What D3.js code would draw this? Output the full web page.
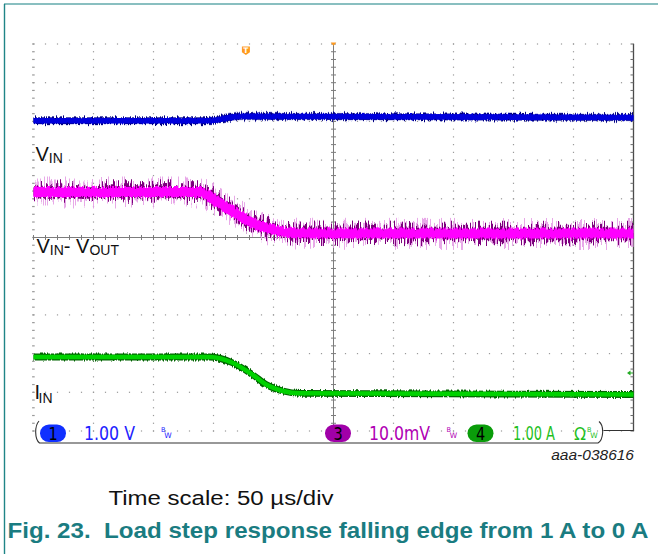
<!DOCTYPE html>
<html>
<head>
<meta charset="utf-8">
<script src="https://cdn.jsdelivr.net/npm/d3@7"></script>
<style>
  html, body { margin: 0; padding: 0; background: #ffffff; }
  svg { display: block; }
</style>
</head>
<body>
<script>
// ---- Scope capture: load step, 1 A -> 0 A, 50 us/div ----
const W = 658, H = 554;

// Horizontal axis: time in microseconds, 10 divisions of 50 us
const timeDomain = [-250, 250];
const timeStep = 50;
// Vertical axis: screen divisions, 10 divisions
const divDomain = [-5, 5];

// Channel 1 (VIN, 1.00 V/div) trace keypoints: time (us) and level (div)
const vinTime = [-250, -106, -97, -86, -78, -20, 250];
const vinDiv  = [3.016, 3.016, 3.036, 3.106, 3.13, 3.125, 3.10];

// Channel 3 (VIN - VOUT, 10.0 mV/div)
const dropTime = [-250, -111, -97, -83.5, -69.6, -55.7, -41.8, -27.9, 250];
const dropDiv  = [1.176, 1.176, 0.925, 0.667, 0.408, 0.238, 0.150, 0.109, 0.103];

// Channel 4 (IIN, 1.00 A/div)
const iinTime = [-250, -103, -83.75, -67.1, -55.4, -42.1, -27.9, 250];
const iinDiv  = [-3.088, -3.088, -3.243, -3.553, -3.811, -3.966, -4.026, -4.057];

// Trigger position (us)
const triggerTime = -73;

// Channel readouts in the status bar
const channelBadges = ["1", "3", "4"];
const channelScales = ["1.00 V", "10.0mV", "1.00 A"];

const traceLabels = ["V", "IN"];
const figureId = "aaa-038616";
const timeScaleText = "Time scale: 50 \u00b5s/div";
const captionText = "Fig. 23.\u00a0\u00a0Load step response falling edge from 1 A to 0 A";

const svg = d3.select("body").append("svg")
  .attr("width", W).attr("height", H);

const x = d3.scaleLinear().domain(timeDomain).range([33.5, 633.5]);
const y = d3.scaleLinear().domain(divDomain).range([431, 44]);

// Page frame lines
svg.append("line").attr("x1", 4).attr("x2", W).attr("y1", 4).attr("y2", 4)
  .attr("stroke", "#62aaab").attr("stroke-width", 1.6);
svg.append("line").attr("x1", 4.5).attr("x2", 4.5).attr("y1", 4).attr("y2", H)
  .attr("stroke", "#1f8587").attr("stroke-width", 1.4);

// ---- Noise filters for the traces ----
const defs = svg.append("defs");
function noiseFilter(id, scale, seed, fx, fy) {
  const f = defs.append("filter").attr("id", id)
    .attr("filterUnits", "userSpaceOnUse")
    .attr("x", 0).attr("y", 0).attr("width", W).attr("height", H)
    .attr("color-interpolation-filters", "sRGB");
  f.append("feTurbulence").attr("type", "fractalNoise")
    .attr("baseFrequency", fx + " " + fy).attr("numOctaves", 2)
    .attr("seed", seed).attr("result", "n");
  // stretch red contrast, freeze green at 0.5 so only vertical displacement remains
  f.append("feColorMatrix").attr("in", "n").attr("type", "matrix")
    .attr("values", "2.2 0 0 0 -0.6  0 0 0 0 0.5  0 0 1 0 0  0 0 0 0 1")
    .attr("result", "m");
  f.append("feDisplacementMap").attr("in", "SourceGraphic").attr("in2", "m")
    .attr("scale", scale).attr("xChannelSelector", "G").attr("yChannelSelector", "R");
}
noiseFilter("nMagWide", 19, 5, 0.9, 0.03);
noiseFilter("nMagDark", 14, 11, 0.95, 0.03);
noiseFilter("nMagCore", 3, 17, 0.8, 0.05);
noiseFilter("nBlueEdge", 3.5, 3, 0.9, 0.05);
noiseFilter("nBlueCore", 1.2, 9, 0.8, 0.05);
noiseFilter("nGreenEdge", 2, 21, 0.7, 0.05);

// ---- Graticule ----
const grid = svg.append("g");
const dotColor = "#9a9a9a";
const hLines = d3.range(divDomain[0], divDomain[1] + 1, 1).filter(d => d !== 0);
const vLines = d3.range(timeDomain[0], timeDomain[1], timeStep).filter(d => d !== 0);
const minorT = d3.range(timeDomain[0], timeDomain[1] + 0.01, timeStep / 5);
const minorD = d3.range(divDomain[0], divDomain[1] + 0.01, 0.2);

// dotted horizontal rows
hLines.forEach(dv => {
  grid.selectAll(null).data(minorT).enter().append("rect")
    .attr("x", t => x(t) - 0.6).attr("y", y(dv) - 0.6)
    .attr("width", 1.2).attr("height", 1.2).attr("fill", dotColor);
});
// dotted vertical columns
vLines.forEach(t => {
  grid.selectAll(null).data(minorD).enter().append("rect")
    .attr("x", x(t) - (t === timeDomain[0] ? 1.4 : 0.6)).attr("y", dv => y(dv) - 0.6)
    .attr("width", t === timeDomain[0] ? 2.6 : 1.2).attr("height", 1.2).attr("fill", dotColor);
});

// center cross with minor ticks
const axisColor = "#7c7c7c";
grid.append("line").attr("x1", x(0)).attr("x2", x(0)).attr("y1", y(5)).attr("y2", y(-5))
  .attr("stroke", axisColor).attr("stroke-width", 1);
grid.append("line").attr("x1", x(timeDomain[0])).attr("x2", x(timeDomain[1])).attr("y1", y(0)).attr("y2", y(0))
  .attr("stroke", axisColor).attr("stroke-width", 1);
grid.selectAll(null).data(minorD).enter().append("line")
  .attr("x1", x(0) - 2.5).attr("x2", x(0) + 2.5)
  .attr("y1", d => y(d)).attr("y2", d => y(d))
  .attr("stroke", axisColor).attr("stroke-width", 1);
grid.selectAll(null).data(minorT).enter().append("line")
  .attr("x1", d => x(d)).attr("x2", d => x(d))
  .attr("y1", y(0) - 2.5).attr("y2", y(0) + 2.5)
  .attr("stroke", axisColor).attr("stroke-width", 1);

// right border with inward ticks
grid.append("line").attr("x1", x(250)).attr("x2", x(250)).attr("y1", y(5)).attr("y2", y(-5))
  .attr("stroke", "#4a4a4a").attr("stroke-width", 1.3);
grid.selectAll(null).data(minorD).enter().append("line")
  .attr("x1", x(250) - 3).attr("x2", x(250))
  .attr("y1", d => y(d)).attr("y2", d => y(d))
  .attr("stroke", "#6a6a6a").attr("stroke-width", 1);

// ---- Traces ----
const line = d3.line().x(d => x(d.t)).y(d => y(d.v)).curve(d3.curveMonotoneX);
const zip = (ts, vs) => ts.map((t, i) => ({ t: t, v: vs[i] }));
const vinData = zip(vinTime, vinDiv);
const dropData = zip(dropTime, dropDiv);
const iinData = zip(iinTime, iinDiv);
const traces = svg.append("g").attr("fill", "none").attr("stroke-linecap", "butt");

function layer(data, color, width, filter, opacity) {
  const p = traces.append("path").datum(data).attr("d", line)
    .attr("stroke", color).attr("stroke-width", width)
    .attr("opacity", opacity == null ? 1 : opacity);
  if (filter) p.attr("filter", "url(#" + filter + ")");
}

// VIN (blue)
layer(vinData, "#a0a0e8", 7.6, "nBlueEdge", 0.85);
layer(vinData, "#00007c", 6.4, "nBlueEdge");
layer(vinData, "#0000dc", 5.6, "nBlueCore");

// VIN - VOUT (magenta)
layer(dropData, "#e6a0e6", 13, "nMagWide", 0.9);
layer(dropData, "#7c007c", 11.5, "nMagDark");
layer(dropData, "#ff00ff", 10, "nMagCore");

// IIN (green)
layer(iinData, "#006400", 6.8, "nGreenEdge");
layer(iinData, "#00d200", 4.6);

// ---- Markers ----
const tx = x(triggerTime);
svg.append("path")
  .attr("d", `M${tx - 4},46.5 h8 v5.8 l-4,2.8 l-4,-2.8 z`)
  .attr("fill", "#ff9a1e");
svg.append("text").attr("x", tx).attr("y", 53.3).attr("text-anchor", "middle")
  .attr("font-family", "DejaVu Sans").attr("font-size", 7.5).attr("font-weight", "bold")
  .attr("fill", "#ffffff").text("T");
svg.append("path")
  .attr("d", `M${x(0) - 2.8},42.5 h5.6 l-2.8,3.2 z`).attr("fill", "#ff9a1e");
// channel 4 ground marker
svg.append("path")
  .attr("d", `M627,373 l3.5,-2.5 v5 z`).attr("fill", "#22aa22");
svg.append("line").attr("x1", 630).attr("x2", 633).attr("y1", 373).attr("y2", 373)
  .attr("stroke", "#22aa22").attr("stroke-width", 1);

// ---- Trace labels ----
const labelFont = "Liberation Sans, Arial, sans-serif";
function subLabel(xp, yp, parts) {
  const t = svg.append("text").attr("x", xp).attr("y", yp)
    .attr("font-family", labelFont).attr("fill", "#111");
  parts.forEach(p => {
    t.append("tspan").attr("font-size", p.s).attr("dy", p.dy || 0).attr("dx", p.dx || 0).text(p.txt);
  });
}
subLabel(35.5, 161, [{ txt: traceLabels[0], s: 20 }, { txt: traceLabels[1], s: 14, dy: 2 }]);
subLabel(36.5, 253, [{ txt: traceLabels[0], s: 20 }, { txt: traceLabels[1], s: 14, dy: 2 },
  { txt: "-\u00a0", s: 20, dy: -2 }, { txt: "V", s: 20 }, { txt: "OUT", s: 14, dy: 2 }]);
subLabel(34.5, 399, [{ txt: "I", s: 20 }, { txt: traceLabels[1], s: 14, dy: 3.5, dx: -1.5 }]);

// ---- Status bar ----
const status = svg.append("g");
status.append("path")
  .attr("d", "M39,421 C34.5,426 34.5,439 39.5,443 L598,443 C603.5,440 604.5,426 599,421.5 M603.5,430.5 L633.5,430.5")
  .attr("fill", "none").attr("stroke", "#333").attr("stroke-width", 1.1);

const badgeX = [40, 325, 467.5];
const badgeFill = ["#1030ff", "#a000a8", "#0a9c0a"];
const scaleX = [84, 369, 513];
const scaleW = [51, 61, 42];
const scaleFill = ["#2222ff", "#b000b4", "#1fbf1f"];
const bwX = [161, 446.5, 587];

function tallText(g, xp, yp, str, fill, size, len, anchor) {
  const t = g.append("text")
    .attr("transform", `translate(${xp},${yp}) scale(1,1.27)`)
    .attr("font-family", "DejaVu Sans, sans-serif").attr("font-size", size)
    .attr("fill", fill).attr("text-anchor", anchor || "start").text(str);
  if (len) t.attr("textLength", len).attr("lengthAdjust", "spacingAndGlyphs");
  return t;
}

channelBadges.forEach((b, i) => {
  status.append("rect").attr("x", badgeX[i]).attr("y", 424.5)
    .attr("width", 26).attr("height", 17.5).attr("rx", 9).attr("ry", 8.75)
    .attr("fill", badgeFill[i]);
  tallText(status, badgeX[i] + 13, 439.5, b, "#000", 14.5, null, "middle");
  tallText(status, scaleX[i], 440, channelScales[i], scaleFill[i], 15, scaleW[i]);
  status.append("text").attr("x", bwX[i]).attr("y", 431.5)
    .attr("font-family", "DejaVu Sans, sans-serif").attr("font-size", 6.5)
    .attr("fill", scaleFill[i]).text("B");
  status.append("text").attr("x", bwX[i] + 3.2).attr("y", 438)
    .attr("font-family", "DejaVu Sans, sans-serif").attr("font-size", 7.5)
    .attr("fill", scaleFill[i]).text("W");
});
tallText(status, 574, 440, "\u03a9", scaleFill[2], 14.5, 12);

// ---- Figure id, time scale and caption ----
svg.append("text").attr("x", 634).attr("y", 460).attr("text-anchor", "end")
  .attr("font-family", labelFont).attr("font-style", "italic").attr("font-size", 15.5)
  .attr("fill", "#222").text(figureId);

svg.append("text").attr("x", 108.5).attr("y", 505)
  .attr("font-family", labelFont).attr("font-size", 20.5).attr("fill", "#111")
  .attr("textLength", 225).attr("lengthAdjust", "spacingAndGlyphs")
  .text(timeScaleText);

svg.append("text").attr("x", 7.5).attr("y", 537.5)
  .attr("font-family", labelFont).attr("font-size", 21.5).attr("font-weight", "bold")
  .attr("fill", "#1a7c81").attr("textLength", 641).attr("lengthAdjust", "spacingAndGlyphs")
  .text(captionText);
</script>
</body>
</html>
